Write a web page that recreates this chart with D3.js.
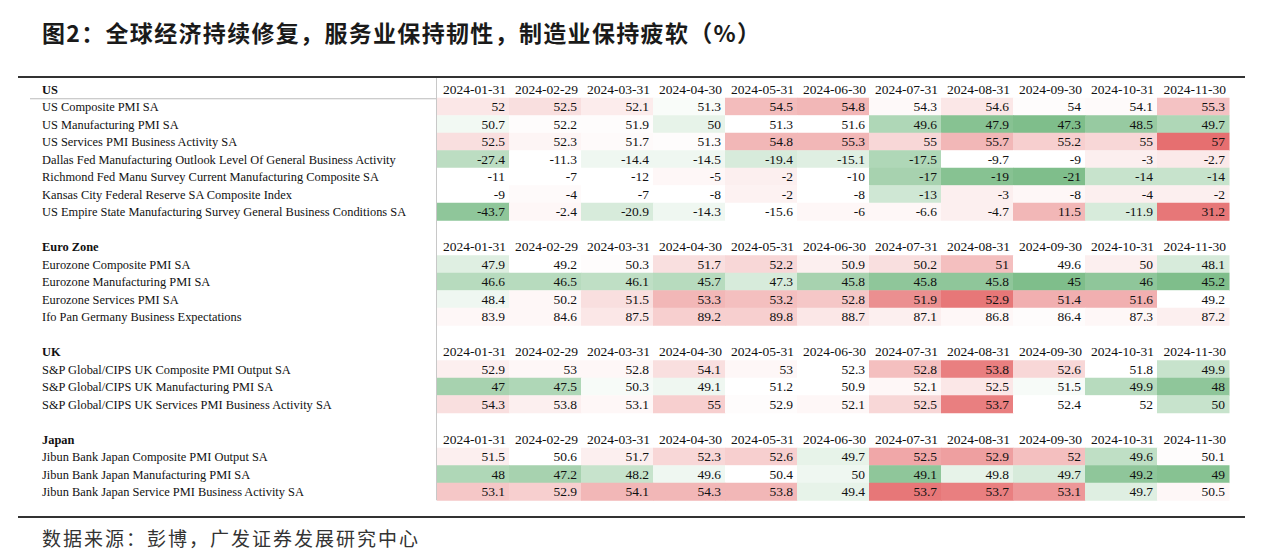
<!DOCTYPE html>
<html>
<head>
<meta charset="utf-8">
<script src="https://cdn.jsdelivr.net/npm/d3@7/dist/d3.min.js"></script>
<style>
  html, body { margin: 0; padding: 0; background: #ffffff; }
  svg { display: block; }
</style>
</head>
<body>
<svg id="chart" width="1278" height="557"></svg>
<script>
// ---------------- DATA ----------------
const titleText = "图2：全球经济持续修复，服务业保持韧性，制造业保持疲软（%）";
const sourceText = "数据来源：彭博，广发证券发展研究中心";

const months = ["2024-01-31","2024-02-29","2024-03-31","2024-04-30","2024-05-31","2024-06-30",
                "2024-07-31","2024-08-31","2024-09-30","2024-10-31","2024-11-30"];

const sectionNames = ["US", "Euro Zone", "UK", "Japan"];

const usLabels = [
  "US Composite PMI SA",
  "US Manufacturing PMI SA",
  "US Services PMI Business Activity SA",
  "Dallas Fed Manufacturing Outlook Level Of General Business Activity",
  "Richmond Fed Manu Survey Current Manufacturing Composite SA",
  "Kansas City Federal Reserve SA Composite Index",
  "US Empire State Manufacturing Survey General Business Conditions SA"
];
const usValues = [
  [52, 52.5, 52.1, 51.3, 54.5, 54.8, 54.3, 54.6, 54, 54.1, 55.3],
  [50.7, 52.2, 51.9, 50, 51.3, 51.6, 49.6, 47.9, 47.3, 48.5, 49.7],
  [52.5, 52.3, 51.7, 51.3, 54.8, 55.3, 55, 55.7, 55.2, 55, 57],
  [-27.4, -11.3, -14.4, -14.5, -19.4, -15.1, -17.5, -9.7, -9, -3, -2.7],
  [-11, -7, -12, -5, -2, -10, -17, -19, -21, -14, -14],
  [-9, -4, -7, -8, -2, -8, -13, -3, -8, -4, -2],
  [-43.7, -2.4, -20.9, -14.3, -15.6, -6, -6.6, -4.7, 11.5, -11.9, 31.2]
];
// heat: signed colour-scale score (-1 deep green ... +1 deep red)
const usHeat = [
  [0.15, 0.2, 0.12, -0.04, 0.42, 0.45, 0.04, 0.15, 0.02, 0.03, 0.38],
  [-0.08, 0.02, 0.02, -0.15, 0.0, 0.0, -0.5, -0.75, -0.8, -0.65, -0.5],
  [0.2, 0.06, 0.03, 0.02, 0.45, 0.45, 0.25, 0.45, 0.3, 0.25, 0.9],
  [-0.42, 0.0, -0.1, -0.1, -0.25, -0.2, -0.5, 0.0, 0.0, 0.1, 0.14],
  [0.0, 0.0, 0.0, 0.05, 0.1, 0.0, -0.55, -0.75, -0.8, -0.35, -0.35],
  [0.0, 0.03, 0.0, 0.0, 0.08, 0.0, -0.3, 0.1, 0.05, 0.1, 0.1],
  [-0.7, 0.05, -0.25, -0.1, 0.0, 0.05, 0.05, 0.1, 0.45, -0.25, 0.85]
];

const euLabels = [
  "Eurozone Composite PMI SA",
  "Eurozone Manufacturing PMI SA",
  "Eurozone Services PMI SA",
  "Ifo Pan Germany Business Expectations"
];
const euValues = [
  [47.9, 49.2, 50.3, 51.7, 52.2, 50.9, 50.2, 51, 49.6, 50, 48.1],
  [46.6, 46.5, 46.1, 45.7, 47.3, 45.8, 45.8, 45.8, 45, 46, 45.2],
  [48.4, 50.2, 51.5, 53.3, 53.2, 52.8, 51.9, 52.9, 51.4, 51.6, 49.2],
  [83.9, 84.6, 87.5, 89.2, 89.8, 88.7, 87.1, 86.8, 86.4, 87.3, 87.2]
];
const euHeat = [
  [-0.2, 0.0, 0.02, 0.2, 0.25, 0.1, 0.2, 0.4, 0.0, 0.1, -0.25],
  [-0.45, -0.45, -0.4, -0.45, -0.25, -0.55, -0.7, -0.7, -0.8, -0.7, -0.8],
  [-0.1, 0.05, 0.2, 0.45, 0.4, 0.35, 0.7, 0.85, 0.5, 0.5, 0.0],
  [0.05, 0.05, 0.15, 0.3, 0.3, 0.15, 0.1, 0.05, 0.02, 0.05, 0.1]
];

const ukLabels = [
  "S&P Global/CIPS UK Composite PMI Output SA",
  "S&P Global/CIPS UK Manufacturing PMI SA",
  "S&P Global/CIPS UK Services PMI Business Activity SA"
];
const ukValues = [
  [52.9, 53, 52.8, 54.1, 53, 52.3, 52.8, 53.8, 52.6, 51.8, 49.9],
  [47, 47.5, 50.3, 49.1, 51.2, 50.9, 52.1, 52.5, 51.5, 49.9, 48],
  [54.3, 53.8, 53.1, 55, 52.9, 52.1, 52.5, 53.7, 52.4, 52, 50]
];
const ukHeat = [
  [0.1, 0.05, 0.05, 0.2, 0.05, 0.0, 0.4, 0.8, 0.25, 0.0, -0.35],
  [-0.55, -0.5, -0.05, -0.1, 0.0, 0.0, 0.05, 0.15, -0.05, -0.45, -0.7],
  [0.2, 0.1, 0.05, 0.3, 0.02, 0.05, 0.25, 0.8, 0.0, 0.0, -0.35]
];

const jpLabels = [
  "Jibun Bank Japan Composite PMI Output SA",
  "Jibun Bank Japan Manufacturing PMI SA",
  "Jibun Bank Japan Service PMI Business Activity SA"
];
const jpValues = [
  [51.5, 50.6, 51.7, 52.3, 52.6, 49.7, 52.5, 52.9, 52, 49.6, 50.1],
  [48, 47.2, 48.2, 49.6, 50.4, 50, 49.1, 49.8, 49.7, 49.2, 49],
  [53.1, 52.9, 54.1, 54.3, 53.8, 49.4, 53.7, 53.7, 53.1, 49.7, 50.5]
];
const jpHeat = [
  [0.1, 0.0, 0.1, 0.25, 0.3, -0.15, 0.55, 0.6, 0.4, -0.4, 0.02],
  [-0.5, -0.55, -0.35, -0.1, 0.0, -0.1, -0.7, -0.15, -0.25, -0.7, -0.75],
  [0.35, 0.3, 0.45, 0.45, 0.45, -0.15, 0.85, 0.8, 0.65, -0.2, 0.05]
];

// ---------------- BUILD ROWS ----------------
const sectionData = [
  { name: sectionNames[0], labels: usLabels, values: usValues, heat: usHeat },
  { name: sectionNames[1], labels: euLabels, values: euValues, heat: euHeat },
  { name: sectionNames[2], labels: ukLabels, values: ukValues, heat: ukHeat },
  { name: sectionNames[3], labels: jpLabels, values: jpValues, heat: jpHeat }
];

const rows = [];
sectionData.forEach((s, si) => {
  if (si > 0) rows.push({ type: "blank" });
  rows.push({ type: "header", name: s.name, first: si === 0 });
  s.labels.forEach((lab, i) => rows.push({ type: "data", label: lab, values: s.values[i], heat: s.heat[i] }));
});

// ---------------- DRAW ----------------
const svg = d3.select("#chart");
const serif = "'Liberation Serif', 'Times New Roman', serif";
const cjk = "'Noto Sans CJK SC', sans-serif";

const rowH = 17.5;
const tableTop = 80.25;
const tableBottom = tableTop + rows.length * rowH;
const yScale = d3.scaleBand().domain(d3.range(rows.length)).range([tableTop, tableBottom]).padding(0);
const xScale = d3.scaleBand().domain(months).range([437, 1229]).padding(0);

const color = d3.scaleLinear().domain([-1, 0, 1]).range(["#5fae6e", "#ffffff", "#e35f60"]).clamp(true);

const labelSize = 12.4;
const numSize = 13.5;

// Title
svg.append("text")
  .attr("x", 42).attr("y", 42)
  .attr("font-family", cjk).attr("font-size", 23).attr("font-weight", 700)
  .attr("fill", "#1a1a1a")
  .attr("textLength", 718).attr("lengthAdjust", "spacing")
  .text(titleText);

// cells
const g = svg.append("g");
rows.forEach((r, ri) => {
  if (r.type !== "data") return;
  months.forEach((m, ci) => {
    g.append("rect")
      .attr("x", xScale(m)).attr("y", yScale(ri))
      .attr("width", xScale.bandwidth() + 0.5).attr("height", yScale.bandwidth() + 0.5)
      .attr("fill", color(r.heat[ci]));
  });
});

// text rows
rows.forEach((r, ri) => {
  const cy = yScale(ri) + yScale.bandwidth() / 2 + 4.7;
  if (r.type === "header") {
    svg.append("text").attr("x", 42).attr("y", cy)
      .attr("font-family", serif).attr("font-size", labelSize).attr("font-weight", 700)
      .attr("fill", "#111").text(r.name);
    months.forEach(m => {
      svg.append("text").attr("x", xScale(m) + xScale.bandwidth() - 3).attr("y", cy)
        .attr("text-anchor", "end")
        .attr("font-family", serif).attr("font-size", numSize)
        .attr("fill", "#111").text(m);
    });
    if (r.first) {
      svg.append("line").attr("x1", 30).attr("x2", 437)
        .attr("y1", yScale(ri) + yScale.bandwidth() + 1).attr("y2", yScale(ri) + yScale.bandwidth() + 1)
        .attr("stroke", "#bbbbbb").attr("stroke-width", 1);
    }
  } else if (r.type === "data") {
    svg.append("text").attr("x", 42).attr("y", cy)
      .attr("font-family", serif).attr("font-size", labelSize)
      .attr("fill", "#111").text(r.label);
    months.forEach((m, ci) => {
      svg.append("text").attr("x", xScale(m) + xScale.bandwidth() - 4).attr("y", cy)
        .attr("text-anchor", "end")
        .attr("font-family", serif).attr("font-size", numSize)
        .attr("fill", "#111").text(r.values[ci]);
    });
  }
});

// vertical separator
svg.append("line").attr("x1", 436.5).attr("x2", 436.5)
  .attr("y1", 78).attr("y2", tableBottom)
  .attr("stroke", "#c8c8c8").attr("stroke-width", 1);

// top and bottom rules
svg.append("line").attr("x1", 18).attr("x2", 1245).attr("y1", 77).attr("y2", 77)
  .attr("stroke", "#333").attr("stroke-width", 2);
svg.append("line").attr("x1", 18).attr("x2", 1245).attr("y1", 517).attr("y2", 517)
  .attr("stroke", "#333").attr("stroke-width", 2);

// source
svg.append("text").attr("x", 42).attr("y", 546)
  .attr("font-family", cjk).attr("font-size", 19)
  .attr("fill", "#333")
  .attr("textLength", 376).attr("lengthAdjust", "spacing")
  .text(sourceText);
</script>
</body>
</html>
